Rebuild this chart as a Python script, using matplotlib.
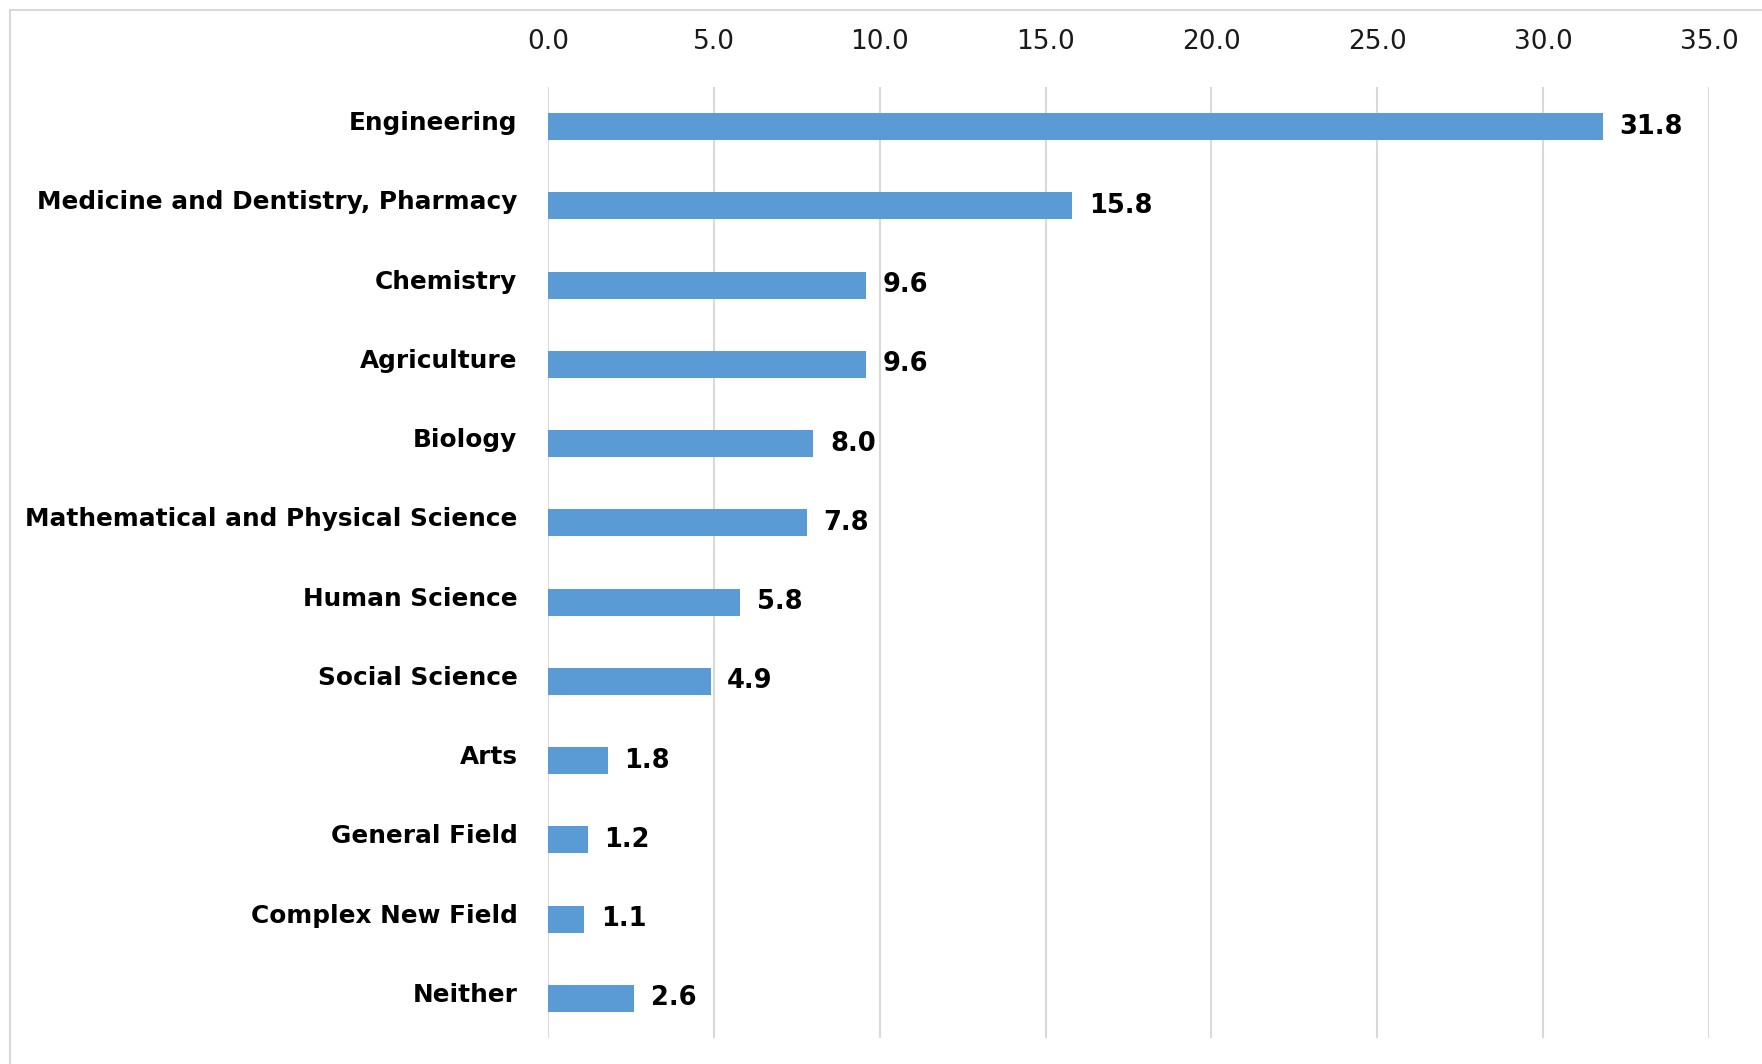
import matplotlib
matplotlib.use("Agg")
import matplotlib.pyplot as plt
import matplotlib.transforms as mtransforms
from matplotlib.patches import Rectangle

categories = ["Engineering", "Medicine and Dentistry, Pharmacy", "Chemistry",
              "Agriculture", "Biology", "Mathematical and Physical Science",
              "Human Science", "Social Science", "Arts", "General Field",
              "Complex New Field", "Neither"]
values = [31.8, 15.8, 9.6, 9.6, 8.0, 7.8, 5.8, 4.9, 1.8, 1.2, 1.1, 2.6]
xticks = [0, 5, 10, 15, 20, 25, 30, 35]

plt.rcParams['font.family'] = ['DejaVu Sans']
W, H = 1762, 1064
fig = plt.figure(figsize=(W / 100, H / 100), dpi=100)
fig.patch.set_facecolor("white")

# outer light border
fig.patches.append(Rectangle((10 / W, -0.1), 1.2, 1 - 10 / H + 0.1,
                             transform=fig.transFigure, fill=False,
                             edgecolor="#D9D9D9", linewidth=1.5))

ax = fig.add_axes([548 / W, 1 - 1038 / H, (1709 - 548) / W, (1038 - 87) / H])
y = list(range(len(categories)))
ax.barh(y, values, height=0.34, color="#5B9BD5", zorder=3)
ax.set_ylim(len(categories) - 0.5, -0.5)
ax.set_xlim(0, 35)
ax.set_xticks(xticks)
ax.set_xticklabels([f"{t:.1f}" for t in xticks])
ax.xaxis.tick_top()
ax.tick_params(axis="x", length=0, pad=23, labelsize=19, labelcolor="#1a1a1a")
ax.set_yticks(y)
ax.set_yticklabels(categories, fontweight="bold")
ax.tick_params(axis="y", length=0, pad=22, labelsize=17.8)
offset = mtransforms.ScaledTranslation(0, 6 / 100, fig.dpi_scale_trans)
for lab in ax.get_yticklabels():
    lab.set_transform(lab.get_transform() + offset)
ax.grid(axis="x", color="#D9D9D9", linewidth=1.5, zorder=0)
for s in ax.spines.values():
    s.set_visible(False)

for yi, v in zip(y, values):
    ax.annotate(f"{v:.1f}", (v, yi), xytext=(12, 0), textcoords="offset points",
                va="center", ha="left", fontsize=18.5, fontweight="bold")

fig.savefig("out.png", dpi=100, facecolor="white")
